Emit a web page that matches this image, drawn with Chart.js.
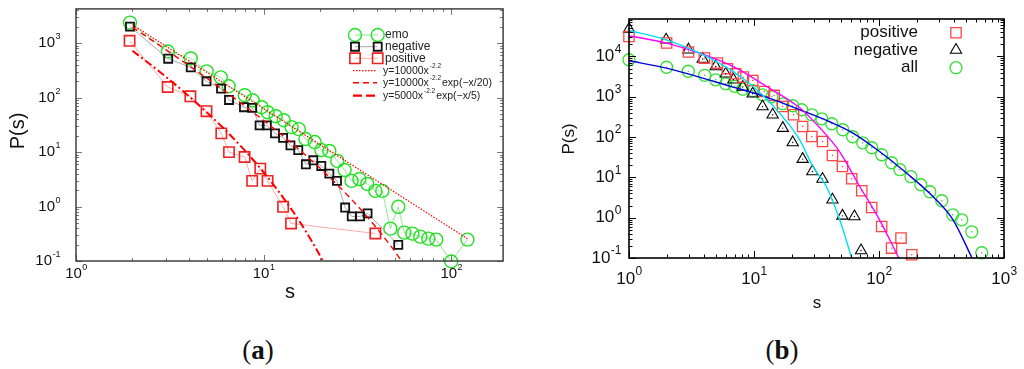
<!DOCTYPE html>
<html>
<head>
<meta charset="utf-8">
<script src="https://cdn.jsdelivr.net/npm/chart.js@4.4.1/dist/chart.umd.min.js"></script>
<style>
  body { margin: 0; background: #fff; width: 1024px; height: 369px; overflow: hidden; position: relative; }
  .panel { position: absolute; top: 0; width: 512px; height: 330px; }
  .cap { position: absolute; top: 350px; transform: translate(-50%, -50%);
         font-family: "Liberation Serif", "Times New Roman", serif; font-size: 27px; color: #111; }
</style>
</head>
<body>
<div class="panel" style="left:0"><canvas id="ca" width="512" height="330"></canvas></div>
<div class="panel" style="left:512px"><canvas id="cb" width="512" height="330"></canvas></div>
<div class="cap" style="left:258px">(<b>a</b>)</div>
<div class="cap" style="left:782px">(<b>b</b>)</div>

<script>
/* ── panel (a): emo / negative / positive ── */
const emoS = [1.94, 3.09, 4.09, 4.97, 5.91, 6.51, 7.93, 8.74, 9.76, 10.5, 11.6, 12.8, 14.1, 15.4, 16.7, 18.7, 20.3,
              22.4, 24.7, 27.0, 29.4, 32.4, 35.7, 39.4, 42.9, 47.4, 52.2, 56.2, 62.1, 68.4, 75.5, 83.2, 100, 122];
const emoP = [2390, 705, 525, 304, 236, 162, 111, 89.6, 66.8, 54.1, 45.7, 38.6, 28.8, 26.4, 17.4, 15.3, 10.9,
              10.5, 6.9, 4.7, 2.96, 3.2, 2.6, 1.94, 1.94, 0.393, 0.99, 0.332, 0.318, 0.28, 0.258, 0.247, 0.098, 0.247];

const negS = [1.94, 3.10, 4.09, 4.96, 5.93, 6.54, 7.86, 8.69, 9.52, 10.4, 11.5, 12.7, 13.9, 15.3, 16.8, 18.4,
              20.3, 22.4, 24.6, 27.2, 29.5, 32.7, 35.8, 52.2];
const negP = [2020, 519, 360, 200, 147, 90.8, 66.7, 64.8, 30.9, 30.9, 22.1, 18.3, 13.3, 10.9, 5.98, 7.08,
              5.57, 4.03, 2.96, 0.96, 0.66, 0.66, 0.75, 0.198];

const posS = [1.93, 3.08, 4.07, 4.96, 5.95, 6.54, 7.92, 8.69, 9.6, 10.5, 12.7, 14.0, 39.4];
const posP = [1107, 157, 106, 56.4, 22.1, 10.0, 8.13, 2.96, 4.98, 2.96, 0.99, 0.49, 0.32];

/* fit curves of (a) */
const fitPowS = [2, 10, 50, 122];
const fitPowP = [2176, 63.1, 1.83, 0.257];
const fitCut20S = [2, 3, 5, 8, 12, 18, 25, 32, 40, 48, 55];
const fitCut20P = [1969, 768, 226, 69.1, 23.2, 7.04, 2.41, 0.987, 0.404, 0.182, 0.095];
const fitCut5S = [2, 3, 4, 6, 8, 10, 12, 14, 16, 18, 21];
const fitCut5P = [729, 245, 106, 29.2, 10.4, 4.27, 1.91, 0.915, 0.457, 0.236, 0.092];

/* ── panel (b): positive / negative / all ── */
const bPosS = [1, 2.0, 2.99, 4.01, 5.09, 6.12, 7.14, 8.22, 9.77, 12.1, 14.5, 16.9, 20.7, 24.5, 29.0, 35.3,
               42.4, 51.0, 60.5, 72.8, 87.4, 105, 126, 150, 183];
const bPosP = [31300, 21500, 12900, 9120, 6850, 4950, 3720, 3080, 2530, 1350, 1080, 574, 357, 183, 103, 77.8,
               34.9, 18.6, 9.23, 4.65, 1.79, 0.605, 0.176, 0.312, 0.12];

const bNegS = [1, 1.98, 2.99, 3.89, 4.94, 5.94, 6.84, 8.13, 9.77, 11.7, 14.1, 17.0, 20.4, 24.5, 29.3, 35.3,
               42.4, 51.0, 63.6, 71.8];
const bNegP = [47900, 25900, 14700, 8620, 5650, 3720, 2640, 1740, 1190, 574, 357, 167, 73.5, 28.4, 14.0, 9.08,
               2.78, 1.11, 1.07, 0.153];

const bAllS = [1, 2.0, 2.98, 4.03, 4.94, 5.94, 7.01, 8.12, 9.77, 11.7, 13.9, 17.0, 20.4, 24.1, 29.0, 34.8,
               41.9, 51.3, 61.6, 74.1, 87.5, 105, 126, 147, 180, 216, 255, 318, 389, 459, 552, 664];
const bAllP = [8280, 5400, 4300, 3410, 2640, 2100, 1820, 1540, 1410, 1120, 1000, 670, 598, 476, 357, 284,
               214, 152, 102, 72.2, 54.3, 36.4, 23.1, 15.5, 10.4, 6.56, 4.40, 2.63, 1.18, 0.887, 0.447, 0.135];

/* fit curves of (b) */
const cyanS = [1, 1.99, 3.68, 6.79, 9.82, 12.6, 18.2, 23.2, 29.6, 37.9, 48.5, 60.5];
const cyanP = [44100, 25900, 12100, 4250, 1800, 877, 244, 85.7, 18.6, 5.94, 0.887, 0.1];
const magS  = [1, 1.99, 3.68, 6.79, 12.6, 23.2, 33.6, 48.5, 70.1, 101, 144];
const magP  = [32700, 21500, 12100, 5650, 1800, 533, 170, 43.2, 5.94, 0.887, 0.1];
const blueS = [1, 1.99, 6.79, 12.6, 23.2, 40.3, 61.9, 101, 166, 270, 391, 555];
const blueP = [7820, 5150, 1740, 984, 476, 240, 126, 44, 12.8, 3.36, 0.887, 0.1];

/* decade labels */
const xTicksA = [1, 10, 100];
const yTicksA = [0.1, 1, 10, 100, 1000];
const xTicksB = [1, 10, 100, 1000];
const yTicksB = [0.1, 1, 10, 100, 1000, 10000];

const FONT = '"Liberation Sans", Arial, Helvetica, sans-serif';
const pts = (xs, ys) => xs.map((x, i) => ({ x, y: ys[i] }));

function drawPow(ctx, exp, x, y, align, fs, fe) {
  ctx.font = fs + 'px ' + FONT;
  const wb = ctx.measureText('10').width;
  ctx.font = fe + 'px ' + FONT;
  const we = ctx.measureText(exp).width;
  const x0 = align === 'right' ? x - wb - we : x - (wb + we) / 2;
  ctx.textAlign = 'left';
  ctx.textBaseline = 'middle';
  ctx.font = fs + 'px ' + FONT;
  ctx.fillText('10', x0, y);
  ctx.font = fe + 'px ' + FONT;
  ctx.fillText(exp, x0 + wb + 0.5, y - fs * 0.42);
}

function marker(ctx, style, r, color, bw, x, y) {
  ctx.save();
  ctx.strokeStyle = color;
  ctx.fillStyle = 'rgba(0,0,0,0)';
  ctx.lineWidth = bw;
  Chart.helpers.drawPoint(ctx, { pointStyle: style, radius: r, rotation: 0, borderWidth: bw }, x, y);
  ctx.restore();
}

function supText(ctx, a, sup, b, x, y, fs, fe) {
  ctx.textAlign = 'left';
  ctx.textBaseline = 'middle';
  ctx.font = fs + 'px ' + FONT;
  ctx.fillText(a, x, y);
  let w = ctx.measureText(a).width;
  ctx.font = fe + 'px ' + FONT;
  ctx.fillText(sup, x + w + 1, y - 4);
  w += ctx.measureText(sup).width + 2;
  ctx.font = fs + 'px ' + FONT;
  ctx.fillText(b, x + w, y);
}

/* ── per-panel styling for the frame plugin (canvas-local coordinates) ── */
const STYLE = {
  ca: {
    border: '#333', bw: 1.4, tick: '#777', major: 6, minor: 3,
    xt: xTicksA, yt: yTicksA, fs: 15, fe: 9, xlabY: 274, ylabX: 60,
    title(ctx) {
      ctx.fillStyle = '#111';
      ctx.font = '20px ' + FONT;
      ctx.textAlign = 'center';
      ctx.textBaseline = 'middle';
      ctx.fillText('s', 290, 292);
      ctx.save();
      ctx.translate(18, 131);
      ctx.rotate(-Math.PI / 2);
      ctx.fillText('P(s)', 0, 0);
      ctx.restore();
    },
    legend(ctx) {
      const rows = [
        ['circle', 6.5, '#22e022', 1.4, 'rgba(120,230,120,0.9)', 'emo', 35],
        ['rect', 5.7, '#111', 1.8, '#aaa', 'negative', 46.7],
        ['rect', 7.3, '#f02020', 1.6, '#ffb0b0', 'positive', 58.3]
      ];
      rows.forEach(([st, r, c, bw, lc, txt, y]) => {
        ctx.strokeStyle = lc; ctx.lineWidth = 1; ctx.setLineDash([]);
        ctx.beginPath(); ctx.moveTo(355, y); ctx.lineTo(377.7, y); ctx.stroke();
        marker(ctx, st, r, c, bw, 355, y);
        marker(ctx, st, r, c, bw, 377.7, y);
        ctx.fillStyle = '#222';
        ctx.font = '12px ' + FONT;
        ctx.textAlign = 'left'; ctx.textBaseline = 'middle';
        ctx.fillText(txt, 385, y);
      });
      const fits = [
        [[1.5, 1.5], 1.2, 70.7, '', 'y=10000x'],
        [[6, 4], 1.4, 82.7, 'exp(\u2212x/20)', 'y=10000x'],
        [[9, 4], 2.2, 95.7, 'exp(\u2212x/5)', 'y=5000x']
      ];
      fits.forEach(([dash, w, y, tail, head]) => {
        ctx.strokeStyle = '#f00'; ctx.lineWidth = w; ctx.setLineDash(dash);
        ctx.beginPath(); ctx.moveTo(353, y); ctx.lineTo(377, y); ctx.stroke();
        ctx.setLineDash([]);
        ctx.fillStyle = '#222';
        supText(ctx, head, '-2.2', tail, 383, y, 10.5, 6.5);
      });
    }
  },
  cb: {
    border: '#000', bw: 1.6, tick: '#000', major: 7, minor: 3.5,
    xt: xTicksB, yt: yTicksB, fs: 17, fe: 12, xlabY: 279, ylabX: 109,
    title(ctx) {
      ctx.fillStyle = '#111';
      ctx.font = '17px ' + FONT;
      ctx.textAlign = 'center';
      ctx.textBaseline = 'middle';
      ctx.fillText('s', 305, 303);
      ctx.save();
      ctx.translate(57, 139);
      ctx.rotate(-Math.PI / 2);
      ctx.fillText('P(s)', 0, 0);
      ctx.restore();
    },
    legend(ctx) {
      const rows = [
        ['rect', 7.3, '#ff4444', 1.3, 'positive', 32.7],
        ['triangle', 6.5, '#000', 1.1, 'negative', 50],
        ['circle', 6, '#33e033', 1.3, 'all', 67.7]
      ];
      rows.forEach(([st, r, c, bw, txt, y]) => {
        ctx.fillStyle = '#111';
        ctx.font = '17px ' + FONT;
        ctx.textAlign = 'right'; ctx.textBaseline = 'middle';
        ctx.fillText(txt, 406, y);
        marker(ctx, st, r, c, bw, 444, y);
      });
    }
  }
};

/* ── frame, inward ticks, decade labels, titles, legend ── */
const frameBox = {
  id: 'frameBox',
  afterDatasetsDraw(chart) {
    const st = STYLE[chart.canvas.id];
    const { ctx, chartArea: a } = chart;
    const sx = chart.scales.x, sy = chart.scales.y;
    const logTicks = (sc) => {
      const out = [];
      for (let e = Math.floor(Math.log10(sc.min)); e <= Math.ceil(Math.log10(sc.max)); e++) {
        for (let m = 1; m < 10; m++) {
          const v = m * Math.pow(10, e);
          if (v >= sc.min * 0.999 && v <= sc.max * 1.001) out.push([v, m === 1]);
        }
      }
      return out;
    };
    ctx.save();
    ctx.strokeStyle = st.tick;
    ctx.lineWidth = 1;
    ctx.setLineDash([]);
    ctx.beginPath();
    logTicks(sx).forEach(([v, maj]) => {
      const px = Math.round(sx.getPixelForValue(v)) + 0.5;
      const L = maj ? st.major : st.minor;
      ctx.moveTo(px, a.bottom); ctx.lineTo(px, a.bottom - L);
      ctx.moveTo(px, a.top); ctx.lineTo(px, a.top + L);
    });
    logTicks(sy).forEach(([v, maj]) => {
      const py = Math.round(sy.getPixelForValue(v)) + 0.5;
      const L = maj ? st.major : st.minor;
      ctx.moveTo(a.left, py); ctx.lineTo(a.left + L, py);
      ctx.moveTo(a.right, py); ctx.lineTo(a.right - L, py);
    });
    ctx.stroke();

    ctx.strokeStyle = st.border;
    ctx.lineWidth = st.bw;
    ctx.strokeRect(a.left, a.top, a.right - a.left, a.bottom - a.top);

    ctx.fillStyle = '#111';
    st.xt.forEach(v => drawPow(ctx, String(Math.round(Math.log10(v))), sx.getPixelForValue(v), st.xlabY, 'center', st.fs, st.fe));
    st.yt.forEach(v => drawPow(ctx, String(Math.round(Math.log10(v))), st.ylabX, sy.getPixelForValue(v), 'right', st.fs, st.fe));

    st.title(ctx);
    st.legend(ctx);
    ctx.restore();
  }
};

function markSet(xs, ys, style, r, color, bw, line, lineW) {
  return {
    data: pts(xs, ys),
    showLine: !!line,
    borderColor: line || color,
    borderWidth: lineW || 0,
    pointStyle: style,
    pointRadius: r,
    pointBorderColor: color,
    pointBorderWidth: bw,
    pointBackgroundColor: 'rgba(0,0,0,0)',
    clip: false,
    tension: 0
  };
}

function fitSet(xs, ys, color, width, dash, smooth) {
  return {
    data: pts(xs, ys),
    showLine: true,
    borderColor: color,
    borderWidth: width,
    borderDash: dash,
    pointRadius: 0,
    cubicInterpolationMode: smooth ? 'monotone' : 'default',
    tension: smooth ? 0.4 : 0
  };
}

function dotSet(xs, ys, color) {
  return { data: pts(xs, ys), showLine: false, pointRadius: 0.7, pointBorderWidth: 0,
           pointBackgroundColor: color, clip: false };
}

function baseOpts(pad, xr, yr) {
  return {
    responsive: false,
    animation: false,
    layout: { padding: pad },
    plugins: { legend: { display: false }, tooltip: { enabled: false } },
    scales: {
      x: { type: 'logarithmic', min: xr[0], max: xr[1], display: false },
      y: { type: 'logarithmic', min: yr[0], max: yr[1], display: false }
    }
  };
}

/* panel (a) — fits listed first so they sit on top */
new Chart(document.getElementById('ca'), {
  type: 'scatter',
  data: {
    datasets: [
      fitSet(fitPowS, fitPowP, '#ff0000', 1.2, [1.5, 1.5], false),
      fitSet(fitCut20S, fitCut20P, '#ff0000', 1.4, [6, 4], true),
      fitSet(fitCut5S, fitCut5P, '#ff0000', 2, [8, 3, 2, 3], true),
      markSet(posS, posP, 'rect', 7.3, '#f02020', 1.6, '#ffaaaa', 1),
      markSet(negS, negP, 'rect', 5.7, '#111', 1.8, '#aaaaaa', 1),
      markSet(emoS, emoP, 'circle', 6.5, '#22e022', 1.4, 'rgba(130,235,130,0.9)', 1)
    ]
  },
  options: baseOpts({ left: 76, top: 7, right: 8, bottom: 69 }, [1, 189], [0.1, 4270]),
  plugins: [frameBox]
});

/* panel (b) */
new Chart(document.getElementById('cb'), {
  type: 'scatter',
  data: {
    datasets: [
      fitSet(cyanS, cyanP, '#00e0f0', 1.4, [], true),
      fitSet(magS, magP, '#ff00ff', 1.4, [], true),
      fitSet(blueS, blueP, '#0000e0', 1.4, [], true),
      dotSet(bPosS, bPosP, '#ff3333'),
      dotSet(bNegS, bNegP, '#000'),
      dotSet(bAllS, bAllP, '#22cc22'),
      markSet(bPosS, bPosP, 'rect', 7.3, '#ff4444', 1.3),
      markSet(bNegS, bNegP, 'triangle', 6.5, '#000', 1.1),
      markSet(bAllS, bAllP, 'circle', 6, '#33e033', 1.3)
    ]
  },
  options: baseOpts({ left: 117, top: 19, right: 20, bottom: 72 }, [1, 1000], [0.1, 85000]),
  plugins: [frameBox]
});
</script>
</body>
</html>
